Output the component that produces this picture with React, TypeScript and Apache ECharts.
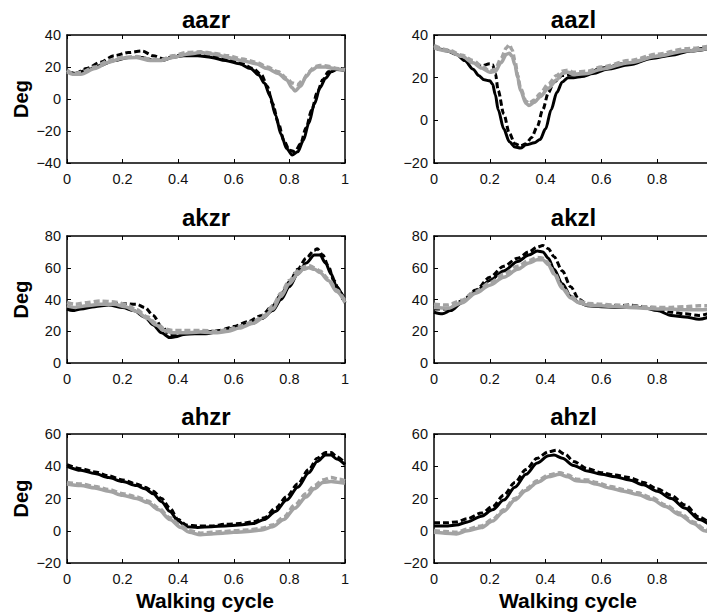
import React, { useEffect, useRef } from "react";
import * as echarts from "echarts";

type Pt = [number, number];

// ---------- titles / labels ----------
const TITLES = ["aazr", "aazl", "akzr", "akzl", "ahzr", "ahzl"];
const Y_NAME = "Deg";
const X_NAME = "Walking cycle";
const X_RANGE = [0, 1, 0.2];
const Y_RANGES: [number, number, number][] = [
  [-40, 40, 20],
  [-20, 40, 20],
  [0, 80, 20],
  [0, 80, 20],
  [-20, 60, 20],
  [-20, 60, 20],
];

// ---------- aazr ----------
const aazrBlackSolid: Pt[] = [[0,17],[0.03,16],[0.07,18],[0.12,21],[0.17,24],[0.22,26],[0.27,26],[0.31,24],[0.34,24],[0.38,26],[0.42,27],[0.47,27],[0.52,26],[0.57,24],[0.62,22],[0.66,19],[0.69,15],[0.71,10],[0.73,2],[0.75,-10],[0.77,-22],[0.79,-31],[0.81,-35],[0.83,-33],[0.85,-26],[0.87,-15],[0.89,-3],[0.91,7],[0.93,13],[0.95,17],[0.97,18.5],[1,18]];
const aazrBlackDash: Pt[] = [[0,17],[0.03,16],[0.07,19],[0.12,23],[0.17,27],[0.22,29],[0.27,30],[0.31,27],[0.35,25],[0.39,27],[0.43,28],[0.48,28],[0.53,27],[0.58,25],[0.63,22],[0.67,19],[0.7,15],[0.72,8],[0.74,-3],[0.76,-15],[0.78,-26],[0.8,-32],[0.82,-33],[0.84,-28],[0.86,-18],[0.88,-7],[0.9,4],[0.92,12],[0.94,17],[0.96,19],[1,18]];
const aazrGraySolid: Pt[] = [[0,17],[0.02,15.5],[0.05,15.5],[0.1,19],[0.15,23],[0.2,25.5],[0.25,26],[0.3,24],[0.34,24],[0.38,26],[0.43,28],[0.48,29],[0.53,28],[0.58,26],[0.63,24],[0.68,22],[0.72,19],[0.76,16],[0.79,12],[0.81,7],[0.82,5],[0.84,8],[0.86,14],[0.88,18],[0.9,20],[0.93,20],[0.96,19],[1,18]];
const aazrGrayDash: Pt[] = [[0,18],[0.02,16],[0.05,16.5],[0.1,20],[0.15,24],[0.2,26],[0.25,26.5],[0.3,25],[0.34,24.5],[0.38,27],[0.43,29],[0.48,29.5],[0.53,28.5],[0.58,27],[0.63,25],[0.68,23],[0.72,20],[0.76,17],[0.79,13],[0.81,10],[0.83,9],[0.85,12],[0.87,17],[0.89,20],[0.91,21],[0.94,20.5],[0.97,19],[1,18.5]];

// ---------- aazl ----------
const aazlBlackSolid: Pt[] = [[0,34],[0.04,33],[0.08,31],[0.11,28],[0.14,24],[0.16,21],[0.18,19],[0.2,18.5],[0.21,17],[0.22,12],[0.23,5],[0.25,-4],[0.27,-10],[0.29,-12.5],[0.31,-13],[0.33,-11.5],[0.36,-10.5],[0.38,-9],[0.4,-4],[0.42,5],[0.44,13],[0.46,18],[0.48,20],[0.5,20],[0.53,20.5],[0.57,22],[0.62,24],[0.7,26],[0.78,29],[0.85,30.5],[0.92,32.5],[1,34]];
const aazlBlackDash: Pt[] = [[0,34],[0.05,32.5],[0.1,30],[0.14,27],[0.17,25.5],[0.2,26.5],[0.21,26],[0.22,22],[0.23,14],[0.25,3],[0.27,-6],[0.29,-11],[0.31,-12],[0.33,-11],[0.35,-8],[0.37,-3],[0.39,5],[0.41,13],[0.43,18],[0.46,21],[0.5,21.5],[0.55,22],[0.6,24.5],[0.7,27],[0.8,30],[0.9,32.5],[1,35]];
const aazlGraySolid: Pt[] = [[0,34],[0.05,32.5],[0.1,30],[0.14,27],[0.17,24.5],[0.2,22.5],[0.22,23],[0.24,27],[0.26,31],[0.27,31.5],[0.28,30],[0.29,26],[0.3,20],[0.31,14],[0.33,8],[0.34,7],[0.36,8.5],[0.38,11],[0.41,15],[0.44,19],[0.46,22],[0.48,22.5],[0.5,21.5],[0.55,22],[0.6,24],[0.7,27],[0.8,30],[0.9,32.5],[1,34]];
const aazlGrayDash: Pt[] = [[0,35],[0.05,33],[0.1,30.5],[0.14,28],[0.17,25.5],[0.2,23],[0.22,24],[0.24,29],[0.26,34],[0.27,35.5],[0.28,33],[0.29,28],[0.3,21],[0.31,15],[0.33,9],[0.34,8],[0.36,9.5],[0.38,12.5],[0.41,17],[0.44,21],[0.46,23],[0.48,23.5],[0.5,22.5],[0.55,23],[0.6,25],[0.7,28],[0.8,31],[0.9,33.5],[1,35]];

// ---------- akzr ----------
const akzrBlackSolid: Pt[] = [[0,34],[0.02,33],[0.05,34],[0.1,35.5],[0.15,36.5],[0.2,35],[0.24,33],[0.28,29],[0.31,24],[0.34,19],[0.37,16],[0.39,16.5],[0.42,18],[0.46,18.5],[0.5,18.5],[0.55,20],[0.6,22],[0.65,24.5],[0.7,28],[0.74,33],[0.77,40],[0.8,48],[0.83,56],[0.86,63],[0.89,68],[0.91,68],[0.93,63],[0.95,56],[0.97,48],[1,38]];
const akzrBlackDash: Pt[] = [[0,35],[0.05,35],[0.1,36],[0.15,37],[0.2,37.5],[0.25,37],[0.28,35],[0.31,30],[0.34,23],[0.37,18],[0.4,18],[0.45,19],[0.5,19.5],[0.55,20.5],[0.6,23],[0.65,26],[0.7,30],[0.74,36],[0.77,43],[0.8,51],[0.83,59],[0.86,66],[0.89,71],[0.9,72],[0.92,68],[0.94,61],[0.96,52],[0.98,45],[1,40]];
const akzrGraySolid: Pt[] = [[0,36],[0.03,35],[0.07,36],[0.12,37],[0.17,37],[0.21,35.5],[0.25,32.5],[0.29,28],[0.32,24],[0.35,20.5],[0.38,19],[0.42,19],[0.48,19.5],[0.54,19],[0.58,20],[0.62,22],[0.67,25],[0.71,29],[0.74,34],[0.77,42],[0.8,50],[0.83,56],[0.85,59],[0.87,60],[0.89,59],[0.91,57],[0.94,52],[0.97,45],[1,38]];
const akzrGrayDash: Pt[] = [[0,38],[0.03,37],[0.07,38],[0.12,39],[0.17,38.5],[0.21,37],[0.25,33.5],[0.29,29],[0.32,25],[0.35,21.5],[0.38,20.5],[0.42,20.5],[0.48,20.5],[0.54,20],[0.58,21],[0.62,23],[0.67,26],[0.71,30],[0.74,36],[0.77,44],[0.8,52],[0.83,58],[0.85,60.5],[0.87,61.5],[0.89,60],[0.91,58],[0.94,53],[0.97,46],[1,39]];

// ---------- akzl ----------
const akzlBlackSolid: Pt[] = [[0,32],[0.03,31],[0.06,33],[0.1,38],[0.15,45],[0.2,52],[0.25,58],[0.3,64],[0.34,68],[0.37,70.5],[0.39,70],[0.41,66],[0.43,59],[0.46,50],[0.49,42],[0.52,38],[0.55,36],[0.6,35.5],[0.65,35],[0.7,35],[0.75,35],[0.8,33],[0.85,30],[0.9,29],[0.95,27.5],[1,30]];
const akzlBlackDash: Pt[] = [[0,34],[0.05,34],[0.1,39],[0.15,46],[0.2,54],[0.25,61],[0.3,66],[0.34,70],[0.37,73],[0.39,74],[0.41,72],[0.43,67],[0.46,58],[0.49,48],[0.52,40],[0.55,37],[0.6,36],[0.65,36],[0.7,36.5],[0.75,35.5],[0.8,34],[0.85,32],[0.9,31],[0.95,30],[1,32]];
const akzlGraySolid: Pt[] = [[0,35],[0.05,34.5],[0.1,38],[0.15,44],[0.2,49],[0.25,54],[0.3,59],[0.34,63],[0.37,65],[0.39,65],[0.41,62],[0.43,56],[0.46,47],[0.49,41],[0.52,38],[0.55,36.5],[0.6,36],[0.65,35.5],[0.7,35],[0.75,34.5],[0.8,34],[0.85,34],[0.9,33.5],[0.95,33.5],[1,34]];
const akzlGrayDash: Pt[] = [[0,37],[0.05,36.5],[0.1,39.5],[0.15,45],[0.2,50.5],[0.25,56],[0.3,61],[0.34,64.5],[0.37,66.5],[0.39,66],[0.41,63],[0.43,57],[0.46,48],[0.49,42],[0.52,39],[0.55,37.5],[0.6,37],[0.65,36.5],[0.7,36],[0.75,35.5],[0.8,35],[0.85,35],[0.9,35.5],[0.95,36],[1,36]];

// ---------- ahzr ----------
const ahzrBlackSolid: Pt[] = [[0,40],[0.05,37.5],[0.1,35.5],[0.15,33],[0.2,30.5],[0.25,28],[0.28,26],[0.31,23],[0.34,18],[0.37,12],[0.4,6],[0.43,2.5],[0.47,2],[0.52,2.5],[0.57,3],[0.62,3.5],[0.67,4.5],[0.71,7],[0.75,12],[0.79,19],[0.83,27],[0.87,36],[0.9,43],[0.93,47],[0.95,47],[0.97,44.5],[1,41]];
const ahzrBlackDash: Pt[] = [[0,41],[0.05,38.5],[0.1,36.5],[0.15,34],[0.2,31.5],[0.25,29],[0.28,27],[0.31,24.5],[0.34,20],[0.37,14],[0.4,7],[0.43,3.5],[0.47,3],[0.52,3],[0.57,4],[0.62,4.5],[0.67,5.5],[0.71,8],[0.75,14],[0.79,21],[0.83,29],[0.87,38],[0.9,45],[0.93,48.5],[0.95,48.5],[0.97,46],[1,42]];
const ahzrGraySolid: Pt[] = [[0,29],[0.05,28],[0.1,26.5],[0.15,24.5],[0.2,22],[0.25,20],[0.29,17.5],[0.33,13],[0.37,7],[0.41,2],[0.44,-1],[0.48,-2.5],[0.52,-2],[0.56,-1.5],[0.6,-1],[0.65,-0.5],[0.7,0.5],[0.74,2.5],[0.78,7],[0.82,14],[0.86,21],[0.89,26],[0.92,30],[0.95,30.5],[0.98,30],[1,29.5]];
const ahzrGrayDash: Pt[] = [[0,30],[0.05,29],[0.1,27.5],[0.15,25.5],[0.2,23],[0.25,21],[0.29,18.5],[0.33,14],[0.37,8],[0.41,3],[0.44,0],[0.48,-1.5],[0.52,-1],[0.56,-0.5],[0.6,0],[0.65,0.5],[0.7,1.5],[0.74,3.5],[0.78,8.5],[0.82,16],[0.86,23],[0.89,28],[0.92,31.5],[0.95,33],[0.98,32],[1,31]];

// ---------- ahzl ----------
const ahzlBlackSolid: Pt[] = [[0,3],[0.05,3],[0.08,3.5],[0.12,5.5],[0.17,9],[0.21,13],[0.25,19],[0.29,27],[0.33,35],[0.37,42],[0.41,46.5],[0.43,47],[0.46,45],[0.5,40.5],[0.55,37],[0.6,35],[0.65,33.5],[0.7,31.5],[0.75,28.5],[0.8,24.5],[0.85,20],[0.9,14],[0.95,7],[1,2]];
const ahzlBlackDash: Pt[] = [[0,5],[0.05,5],[0.08,5.5],[0.12,7.5],[0.17,11],[0.21,15],[0.25,22],[0.29,30],[0.33,38],[0.37,45],[0.41,49],[0.44,50],[0.47,47.5],[0.5,43],[0.55,38.5],[0.6,36],[0.65,34.5],[0.7,33],[0.75,30],[0.8,26],[0.85,22],[0.9,16],[0.95,8.5],[1,3]];
const ahzlGraySolid: Pt[] = [[0,-1],[0.04,-1.5],[0.08,-2],[0.12,0],[0.17,2],[0.21,6],[0.25,12],[0.29,19],[0.33,25],[0.37,30],[0.41,33.5],[0.45,35],[0.48,33.5],[0.51,31],[0.55,30.5],[0.58,29],[0.63,26.5],[0.68,24.5],[0.73,22.5],[0.78,19.5],[0.83,15],[0.88,10],[0.93,4.5],[0.97,0],[1,-2]];
const ahzlGrayDash: Pt[] = [[0,0],[0.04,-0.5],[0.08,-1],[0.12,1],[0.17,3],[0.21,7],[0.25,13],[0.29,20],[0.33,26],[0.37,31],[0.41,34.5],[0.45,36],[0.48,34.5],[0.51,32],[0.55,31.5],[0.58,30],[0.63,27.5],[0.68,25.5],[0.73,23.5],[0.78,20.5],[0.83,16],[0.88,11],[0.93,5.5],[0.97,1],[1,-1]];

const SERIES: Pt[][][] = [
  [aazrBlackSolid, aazrBlackDash, aazrGraySolid, aazrGrayDash],
  [aazlBlackSolid, aazlBlackDash, aazlGraySolid, aazlGrayDash],
  [akzrBlackSolid, akzrBlackDash, akzrGraySolid, akzrGrayDash],
  [akzlBlackSolid, akzlBlackDash, akzlGraySolid, akzlGrayDash],
  [ahzrBlackSolid, ahzrBlackDash, ahzrGraySolid, ahzrGrayDash],
  [ahzlBlackSolid, ahzlBlackDash, ahzlGraySolid, ahzlGrayDash],
];

// ---------- layout (px) ----------
const COL_LEFT = [67, 434];
const COL_WIDTH = [278, 279];
const ROW_TOP = [35, 236, 434];
const ROW_HEIGHT = [128, 127, 129];
const TITLE_Y = [19, 217, 416];

const LINE_STYLES = [
  { color: "#000000", type: "solid" as any, width: 3 },
  { color: "#000000", type: [6, 3] as any, width: 3 },
  { color: "#a3a3a3", type: "solid" as any, width: 3.5 },
  { color: "#a3a3a3", type: [6, 3] as any, width: 3.5 },
];

const fmt = (v: number) => String(Math.round(v * 100) / 100).replace("-", "\u2212");

export default function App() {
  const ref = useRef<HTMLDivElement>(null);
  useEffect(() => {
    if (!ref.current) return;
    const chart = echarts.init(ref.current, undefined, { renderer: "svg" });
    const grids: any[] = [];
    const xAxes: any[] = [];
    const yAxes: any[] = [];
    const series: any[] = [];
    const graphics: any[] = [];
    const axisLine = { show: true, onZero: false, lineStyle: { color: "#000", width: 1.5 } };
    const labelStyle = { fontFamily: "Liberation Sans", fontSize: 14.5, color: "#111" };
    TITLES.forEach((title, i) => {
      const col = i % 2;
      const row = Math.floor(i / 2);
      const [ymin, ymax, yint] = Y_RANGES[i];
      grids.push({
        left: COL_LEFT[col],
        top: ROW_TOP[row],
        width: COL_WIDTH[col],
        height: ROW_HEIGHT[row],
        containLabel: false,
        outerBoundsMode: "none",
      });
      const baseX = {
        type: "value",
        gridIndex: i,
        min: X_RANGE[0],
        max: X_RANGE[1],
        interval: X_RANGE[2],
        splitLine: { show: false },
        axisLine,
        axisTick: { show: true, inside: true, length: 4, lineStyle: { color: "#000", width: 1 } },
      };
      xAxes.push({
        ...baseX,
        position: "bottom",
        axisLabel: {
          show: true,
          margin: 8,
          formatter: fmt,
          hideOverlap: false,
          showMaxLabel: col === 0,
          ...labelStyle,
        },
      });
      xAxes.push({ ...baseX, position: "top", axisLabel: { show: false } });
      const baseY = {
        type: "value",
        gridIndex: i,
        min: ymin,
        max: ymax,
        interval: yint,
        splitLine: { show: false },
        axisLine,
        axisTick: { show: true, inside: true, length: 4, lineStyle: { color: "#000", width: 1 } },
      };
      yAxes.push({
        ...baseY,
        position: "left",
        axisLabel: { show: true, margin: 6, formatter: fmt, ...labelStyle },
      });
      yAxes.push({ ...baseY, position: "right", axisLabel: { show: false } });
      SERIES[i].forEach((data, k) => {
        series.push({
          type: "line",
          xAxisIndex: 2 * i,
          yAxisIndex: 2 * i,
          data,
          showSymbol: false,
          smooth: 0.3,
          smoothMonotone: "x",
          lineStyle: LINE_STYLES[k],
          z: 2 + k,
        });
      });
      const cx = COL_LEFT[col] + COL_WIDTH[col] / 2;
      graphics.push({
        type: "text",
        x: cx,
        y: TITLE_Y[row],
        style: {
          text: title,
          fontFamily: "Liberation Sans",
          fontWeight: "bold",
          fontSize: 24,
          fill: "#000",
          align: "center",
          verticalAlign: "middle",
        },
      });
      if (col === 0) {
        graphics.push({
          type: "text",
          x: 21,
          y: ROW_TOP[row] + ROW_HEIGHT[row] / 2,
          rotation: Math.PI / 2,
          style: {
            text: Y_NAME,
            fontFamily: "Liberation Sans",
            fontWeight: "bold",
            fontSize: 20,
            fill: "#000",
            align: "center",
            verticalAlign: "middle",
          },
        });
      }
      if (row === 2) {
        graphics.push({
          type: "text",
          x: col === 0 ? 205 : 568,
          y: 600,
          style: {
            text: X_NAME,
            fontFamily: "Liberation Sans",
            fontWeight: "bold",
            fontSize: 21,
            fill: "#000",
            align: "center",
            verticalAlign: "middle",
          },
        });
      }
    });
    chart.setOption({
      animation: false,
      backgroundColor: "#ffffff",
      grid: grids,
      xAxis: xAxes,
      yAxis: yAxes,
      series,
      graphic: graphics,
    });
    return () => chart.dispose();
  }, []);
  return (
    <div
      ref={ref}
      style={{ position: "absolute", left: 0, top: 0, width: 707, height: 614, overflow: "hidden" }}
    />
  );
}
